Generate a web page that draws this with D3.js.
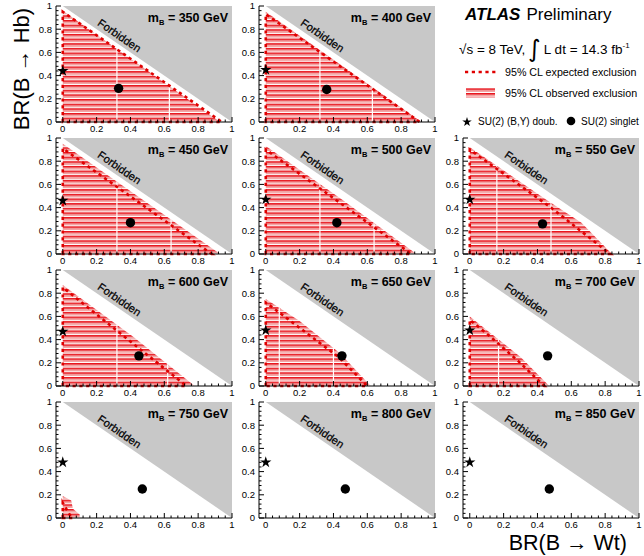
<!DOCTYPE html>
<html><head><meta charset="utf-8">
<script src="https://cdn.jsdelivr.net/npm/d3@7"></script>
<style>
body{margin:0;background:#fff}
svg{display:block}
text{font-family:"Liberation Sans",Arial,Helvetica,"DejaVu Sans",sans-serif;fill:#000}
</style>
</head><body>
<svg id="c" width="644" height="556"></svg>
<script>
// ---------------- data ----------------
const masses = [350,400,450,500,550,600,650,700,750,800,850];
const starY  = [0.44,0.45,0.46,0.47,0.47,0.47,0.48,0.48,0.48,0.48,0.48];
const dotX   = [0.33,0.36,0.40,0.42,0.43,0.45,0.45,0.46,0.47,0.47,0.47];
const dotY   = [0.29,0.28,0.27,0.27,0.26,0.26,0.26,0.26,0.25,0.25,0.25];
// observed exclusion boundary (from x=0 top down to y=0)
const observed = [
  [[0,0.96],[0.93,0]],
  [[0,0.95],[0.92,0]],
  [[0,0.95],[0.93,0]],
  [[0,0.93],[0.45,0.47],[0.89,0]],
  [[0,0.92],[0.45,0.47],[0.66,0.27],[0.84,0]],
  [[0,0.87],[0.42,0.42],[0.78,0]],
  [[0,0.75],[0.2,0.56],[0.44,0.28],[0.62,0]],
  [[0,0.6],[0.12,0.46],[0.3,0.25],[0.47,0]],
  [[0,0.19],[0.05,0.15],[0.06,0.08],[0.1,0.03],[0.1,0]],
  [],
  []
];
// expected exclusion boundary
const expected = [
  [[0,0.95],[0.94,0]],
  [[0,0.93],[0.91,0]],
  [[0,0.91],[0.88,0]],
  [[0,0.9],[0.86,0]],
  [[0,0.9],[0.48,0.4],[0.83,0]],
  [[0,0.85],[0.73,0]],
  [[0,0.72],[0.43,0.25],[0.6,0]],
  [[0,0.57],[0.11,0.44],[0.29,0.21],[0.44,0]],
  [[0,0.13],[0.04,0.03],[0.06,0]],
  [],
  []
];
// white seams seen inside observed region
const seams = [[0.32,0.63],[0.32,0.63],[0.32,0.64],[0.32,0.64],[0.16,0.48],[0.32,0.62],[0.08,0.4],[0.17],[],[],[]];
const tickValues = [0,0.2,0.4,0.6,0.8,1];
const tickLabels = ["0","0.2","0.4","0.6","0.8","1"];
const xDomain = [-0.04,1];
const yDomain = [0,1];

// ---------------- layout ----------------
const colLeft = [56,259,463];
const rowTop  = [6,138,270,402];
const W = 176, H = 116;
const svg = d3.select("#c");
const defs = svg.append("defs");
const pat = defs.append("pattern").attr("id","hatch").attr("patternUnits","userSpaceOnUse")
  .attr("width",10).attr("height",4.65);
pat.append("rect").attr("width",10).attr("height",4.65).attr("fill","#fff");
pat.append("rect").attr("y",0).attr("width",10).attr("height",1.7).attr("fill","#e8141c");
pat.append("rect").attr("y",1.7).attr("width",10).attr("height",2.0).attr("fill","#f3a3a3");

const x = d3.scaleLinear().domain(xDomain).range([0,W]);
const y = d3.scaleLinear().domain(yDomain).range([H,0]);
const line = d3.line().x(d=>x(d[0])).y(d=>y(d[1]));
const minor = d3.range(0,1.0001,0.04);
const angle = Math.atan2(y(0)-y(1), x(1)-x(0))*180/Math.PI;

masses.forEach((m,i)=>{
  const slot = i<2 ? i : i+1;
  const g = svg.append("g").attr("transform",`translate(${colLeft[slot%3]},${rowTop[Math.floor(slot/3)]})`);
  // forbidden
  g.append("path").attr("d", line([[0,1],[1,1],[1,0]])+"Z").attr("fill","#c8c8c8");
  // observed
  if(observed[i].length){
    const poly = [[0,0]].concat(observed[i]);
    const cid = "obs"+i;
    defs.append("clipPath").attr("id",cid).append("path").attr("d", line(poly)+"Z");
    g.append("path").attr("d", line(poly)+"Z").attr("fill","url(#hatch)");
    const sg = g.append("g").attr("clip-path",`url(#${cid})`);
    seams[i].forEach(s=>{
      sg.append("line").attr("x1",x(s)).attr("x2",x(s)).attr("y1",y(0)).attr("y2",y(1))
        .attr("stroke","#fff").attr("stroke-width",1.2);
    });
  }
  if(expected[i].length){
    const poly = [[0,0]].concat(expected[i]);
    g.append("path").attr("d", line(poly)+"Z").attr("fill","none")
      .attr("stroke","#e00000").attr("stroke-width",2.6).attr("stroke-dasharray","3.2,3.6");
  }
  // axes
  g.append("line").attr("x1",0).attr("x2",0).attr("y1",0).attr("y2",H).attr("stroke","#000");
  g.append("line").attr("x1",0).attr("x2",W).attr("y1",H).attr("y2",H).attr("stroke","#000");
  minor.forEach(t=>{
    const major = tickValues.some(v=>Math.abs(v-t)<1e-6);
    const L = major?5:2.5;
    g.append("line").attr("x1",0).attr("x2",L).attr("y1",y(t)).attr("y2",y(t)).attr("stroke","#000");
    g.append("line").attr("x1",x(t)).attr("x2",x(t)).attr("y1",H).attr("y2",H-L).attr("stroke","#000");
  });
  tickValues.forEach((t,k)=>{
    g.append("text").attr("x",-4).attr("y",y(t)).attr("dy","0.36em").attr("text-anchor","end")
      .attr("font-size",9.5).text(tickLabels[k]);
    g.append("text").attr("x",x(t)).attr("y",H+10).attr("text-anchor","middle")
      .attr("font-size",9.5).text(tickLabels[k]);
  });
  // Forbidden label
  g.append("text").attr("transform",`translate(${x(0.335)},${y(0.745)}) rotate(${angle})`)
    .attr("text-anchor","middle").attr("dy","0.35em").attr("font-size",11)
    .attr("stroke","#000").attr("stroke-width",0.25).text("Forbidden");
  // mass label
  const t = g.append("text").attr("x",W-4).attr("y",16).attr("text-anchor","end")
    .attr("font-size",12.5).attr("font-weight","bold");
  t.append("tspan").text("m");
  t.append("tspan").attr("font-size",7.5).attr("dy",3).text("B");
  t.append("tspan").attr("dy",-3).text(` = ${m} GeV`);
  // benchmark points
  g.append("path").attr("d", d3.symbol(d3.symbolStar).size(40)())
    .attr("transform",`translate(${x(0)},${y(starY[i])})`).attr("fill","#000");
  g.append("circle").attr("cx",x(dotX[i])).attr("cy",y(dotY[i])).attr("r",4.7).attr("fill","#000");
});

// ---------------- axis titles ----------------
svg.append("text").attr("transform","translate(29,69) rotate(-90)").attr("text-anchor","middle")
  .attr("font-size",22).text("BR(B \u2192 Hb)");
svg.append("text").attr("x",627).attr("y",550).attr("text-anchor","end")
  .attr("font-size",21.5).text("BR(B \u2192 Wt)");

// ---------------- legend ----------------
const lg = svg.append("g");
const t1 = lg.append("text").attr("x",465).attr("y",20).attr("font-size",17);
t1.append("tspan").attr("font-weight","bold").attr("font-style","italic").text("ATLAS");
t1.append("tspan").attr("dx",6).text("Preliminary");
const t2 = lg.append("text").attr("x",459).attr("y",54).attr("font-size",13.5);
t2.append("tspan").text("\u221As = 8 TeV,");
t2.append("tspan").attr("font-size",24).attr("dx",3).attr("dy",3).attr("font-family","DejaVu Sans").text("\u222B");
t2.append("tspan").attr("dx",3).attr("dy",-3).text("L dt = 14.3 fb");
t2.append("tspan").attr("font-size",8).attr("dy",-6).text("-1");
lg.append("line").attr("x1",465).attr("x2",496).attr("y1",72).attr("y2",72)
  .attr("stroke","#e00000").attr("stroke-width",2.6).attr("stroke-dasharray","3.2,3.6");
lg.append("text").attr("x",505).attr("y",76).attr("font-size",10.7).text("95% CL expected exclusion");
lg.append("rect").attr("x",466).attr("y",88).attr("width",29).attr("height",10).attr("fill","url(#hatch)");
lg.append("text").attr("x",505).attr("y",97).attr("font-size",10.7).text("95% CL observed exclusion");
lg.append("path").attr("d", d3.symbol(d3.symbolStar).size(28)()).attr("transform","translate(467,122)");
lg.append("text").attr("x",478).attr("y",125).attr("font-size",10).text("SU(2) (B,Y) doub.");
lg.append("circle").attr("cx",571).attr("cy",121).attr("r",4.3);
lg.append("text").attr("x",581).attr("y",125).attr("font-size",10).text("SU(2) singlet");
</script>
</body></html>
